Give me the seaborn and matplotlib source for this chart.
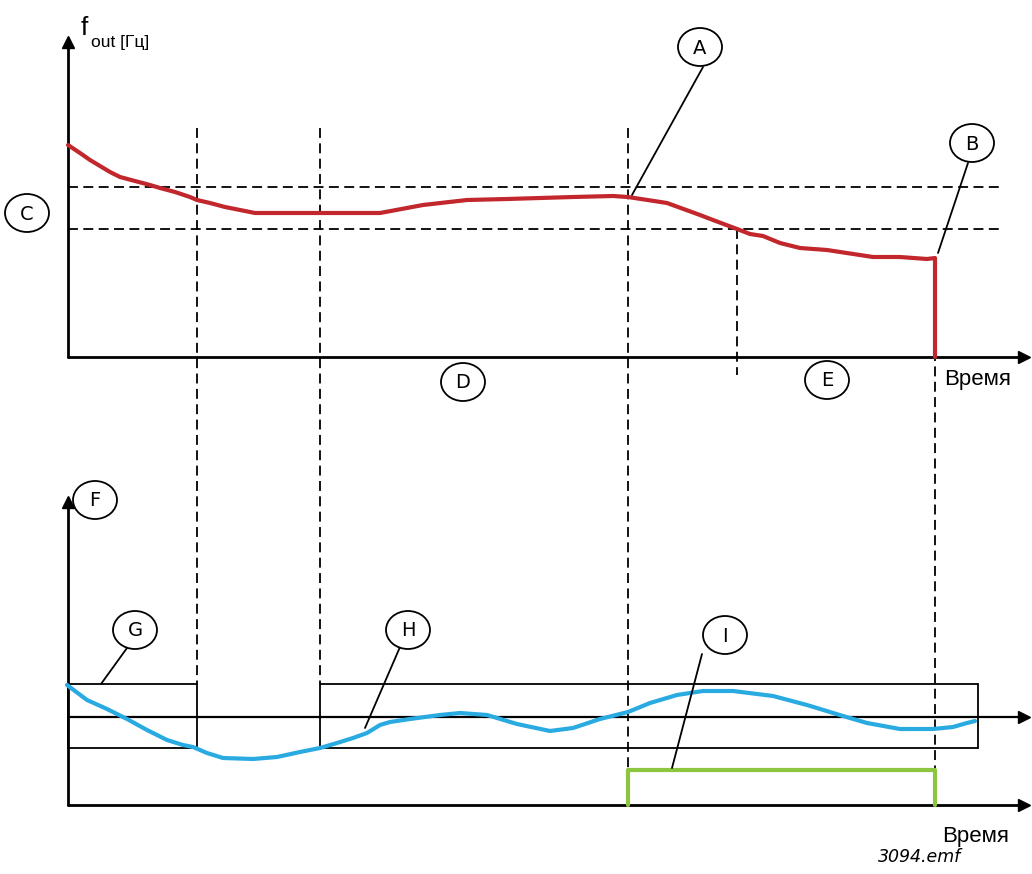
import matplotlib
matplotlib.use("Agg")
import matplotlib.pyplot as plt
from matplotlib.patches import Ellipse, Rectangle
import seaborn as sns
import pandas as pd

sns.set_theme(style="white")
plt.rcParams['font.family'] = ['DejaVu Sans']
plt.rcParams['text.color'] = 'black'

# Data (picture coordinates, 1032x874 canvas, y downwards)
red_x = [68, 80, 90, 100, 110, 120, 135, 150, 160, 175, 190, 197, 210, 225, 240, 255, 270, 300,
         340, 380, 423, 467, 507, 573, 613, 628, 667, 700, 713, 737, 750, 763, 780, 800, 827,
         873, 900, 927, 935, 935]
red_y = [145, 153, 160, 166, 172, 177, 181, 185, 188, 192, 197, 200, 203, 207, 210, 213, 213, 213,
         213, 213, 205, 200, 199, 197, 196, 197, 203, 215, 220, 229, 234, 236, 243, 248, 250,
         257, 257, 259, 258, 357]

blue_x = [67, 87, 107, 127, 147, 167, 183, 193, 207, 223, 253, 277, 300, 320, 337, 353, 367,
          380, 390, 410, 440, 460, 487, 517, 550, 573, 600, 628, 650, 677, 703, 733, 773, 807,
          843, 867, 900, 933, 953, 967, 975]
blue_y = [685, 700, 709, 719, 730, 740, 745, 747, 753, 758, 759, 757, 752, 748, 743, 738, 733,
          725, 722, 719, 715, 713, 715, 724, 731, 728, 719, 712, 703, 695, 691, 691, 696, 705,
          716, 723, 729, 729, 727, 723, 721]

green_x = [628, 628, 935, 935]
green_y = [805, 770, 770, 805]

thresholds = [187, 229]

labels = ["A", "B", "C", "D", "E", "F", "G", "H", "I"]
label_x = [700, 972, 27, 463, 827, 95, 135, 408, 725]
label_y = [47, 143, 213, 382, 380, 500, 630, 630, 635]

fig = plt.figure(figsize=(10.32, 8.74), dpi=100)
ax = fig.add_axes([0, 0, 1, 1])

k = "black"
dash = (0, (5.5, 3))
# Top axes
ax.plot([68, 68], [357, 42], color=k, lw=2)
ax.plot([68, 1024], [357, 357], color=k, lw=2)
ax.plot([68], [42], marker="^", color=k, ms=9)
ax.plot([1024], [357], marker=">", color=k, ms=9)

# dashed thresholds
for yy in thresholds:
    ax.plot([68, 1000], [yy, yy], color=k, lw=1.3, ls=dash)
# dashed verticals
ax.plot([197, 197], [128, 684], color=k, lw=1.3, ls=dash)
ax.plot([320, 320], [128, 684], color=k, lw=1.3, ls=dash)
ax.plot([628, 628], [128, 770], color=k, lw=1.3, ls=dash)
ax.plot([737, 737], [229, 375], color=k, lw=1.3, ls=dash)
ax.plot([935, 935], [259, 770], color=k, lw=1.3, ls=dash)

# Bottom axes
ax.plot([68, 68], [805, 502], color=k, lw=2)
ax.plot([68, 1024], [805, 805], color=k, lw=2)
ax.plot([68, 1024], [717, 717], color=k, lw=1.6)
ax.plot([68], [502], marker="^", color=k, ms=9)
ax.plot([1024], [805], marker=">", color=k, ms=9)
ax.plot([1024], [717], marker=">", color=k, ms=9)

# boxes
ax.add_patch(Rectangle((68, 684), 197 - 68, 64, fill=False, ec=k, lw=1.3))
ax.add_patch(Rectangle((320, 684), 978 - 320, 64, fill=False, ec=k, lw=1.3))

# curves
sns.lineplot(data=pd.DataFrame({"x": red_x, "y": red_y}), x="x", y="y", sort=False,
             estimator=None, color="#c1272d", lw=3, ax=ax)
sns.lineplot(data=pd.DataFrame({"x": blue_x, "y": blue_y}), x="x", y="y", sort=False,
             estimator=None, color="#29abe2", lw=3, ax=ax)
sns.lineplot(data=pd.DataFrame({"x": green_x, "y": green_y}), x="x", y="y", sort=False,
             estimator=None, color="#8cc63f", lw=3, ax=ax)

# leader lines
leaders = [((703, 67), (632, 195)), ((968, 163), (938, 253)), ((127, 648), (101, 684)),
           ((400, 647), (365, 728)), ((702, 654), (672, 768))]
for (x1, y1), (x2, y2) in leaders:
    ax.plot([x1, x2], [y1, y2], color=k, lw=1.3)

# circle labels
for t, xx, yy in zip(labels, label_x, label_y):
    ax.add_patch(Ellipse((xx, yy), 44, 38, fill=True, fc="white", ec=k, lw=1.3, zorder=5))
    ax.text(xx, yy + 1, t, ha="center", va="center", fontsize=14, zorder=6, color=k)

# texts
ax.text(81, 35, "f", fontsize=19, ha="left", va="baseline", color=k, family="Liberation Sans")
ax.text(91, 47, "out [Гц]", fontsize=12.5, ha="left", va="baseline", color=k, family="Liberation Sans")
ax.text(944, 385, "Время", fontsize=16, ha="left", va="baseline", color=k, family="Liberation Sans")
ax.text(942, 842, "Время", fontsize=16, ha="left", va="baseline", color=k, family="Liberation Sans")
ax.text(878, 862, "3094.emf", fontsize=12.5, ha="left", va="baseline", style="italic", color=k)

ax.set_xlim(0, 1032)
ax.set_ylim(874, 0)
ax.axis("off")

fig.savefig("out.png", dpi=100)
